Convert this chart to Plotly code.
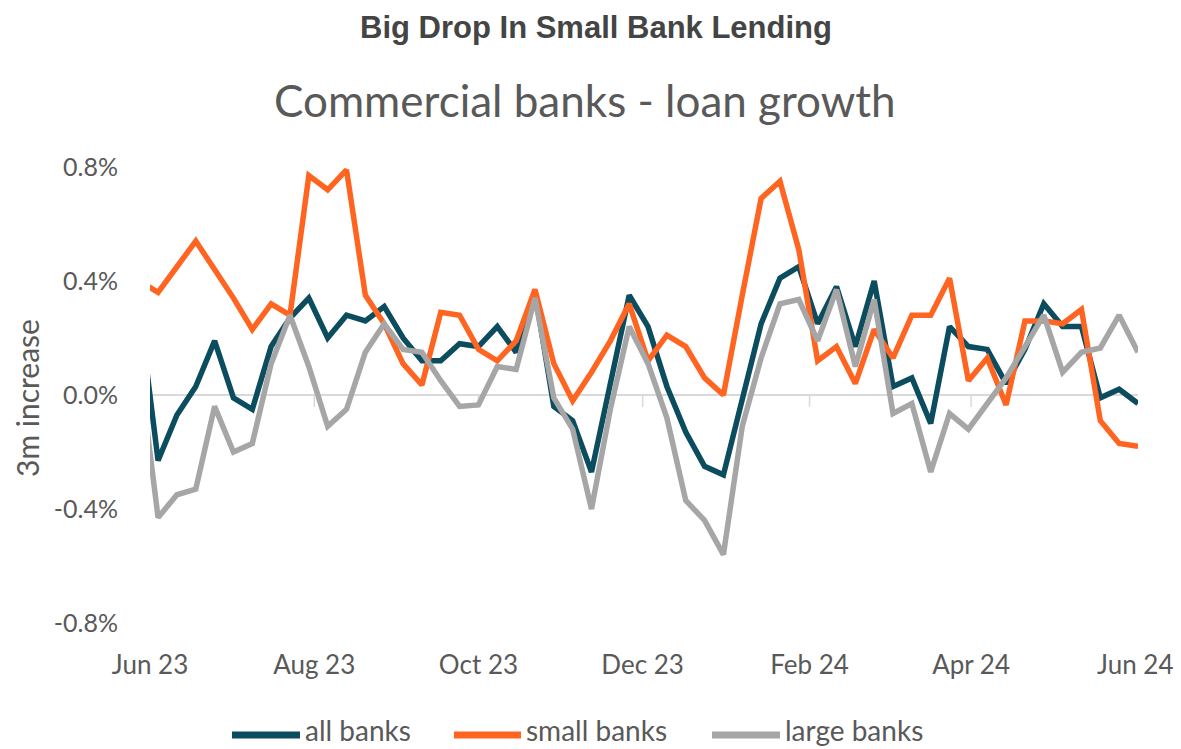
import pandas as pd
import plotly.graph_objects as go

# weekly observations (first one sits just before the axis start and is clipped)
dates = pd.date_range("2023-05-28", periods=54, freq="7D")

all_banks = [0.30, -0.23, -0.07, 0.03, 0.19, -0.01, -0.05, 0.17, 0.27, 0.34,
             0.20, 0.28, 0.26, 0.31, 0.20, 0.12, 0.12, 0.18, 0.17, 0.24,
             0.15, 0.36, -0.04, -0.09, -0.27, 0.04, 0.35, 0.24, 0.03, -0.13,
             -0.25, -0.28, -0.02, 0.25, 0.41, 0.45, 0.25, 0.38, 0.17, 0.40,
             0.03, 0.06, -0.10, 0.24, 0.17, 0.16, 0.04, 0.16, 0.32, 0.24,
             0.24, -0.01, 0.02, -0.03]
small_banks = [0.40, 0.36, 0.45, 0.54, 0.44, 0.34, 0.23, 0.32, 0.28, 0.77,
               0.72, 0.79, 0.35, 0.25, 0.11, 0.035, 0.29, 0.28, 0.16, 0.12,
               0.19, 0.37, 0.11, -0.02, 0.08, 0.19, 0.32, 0.12, 0.21, 0.17,
               0.06, 0.00, 0.35, 0.69, 0.75, 0.51, 0.12, 0.17, 0.04, 0.23,
               0.13, 0.28, 0.28, 0.41, 0.05, 0.13, -0.035, 0.26, 0.26, 0.25,
               0.30, -0.09, -0.17, -0.18]
large_banks = [0.10, -0.43, -0.35, -0.33, -0.04, -0.20, -0.17, 0.11, 0.28, 0.10,
               -0.11, -0.05, 0.15, 0.25, 0.16, 0.15, 0.05, -0.04, -0.035, 0.10,
               0.09, 0.34, -0.01, -0.12, -0.40, -0.05, 0.24, 0.11, -0.08, -0.37,
               -0.44, -0.56, -0.11, 0.13, 0.32, 0.335, 0.19, 0.37, 0.10, 0.335,
               -0.065, -0.03, -0.27, -0.065, -0.12, -0.03, 0.06, 0.17, 0.28, 0.08,
               0.15, 0.165, 0.28, 0.15]

tick_dates = ["2023-06-01", "2023-08-01", "2023-10-01", "2023-12-01",
              "2024-02-01", "2024-04-01", "2024-06-01"]
tick_labels = ["Jun 23", "Aug 23", "Oct 23", "Dec 23", "Feb 24", "Apr 24", "Jun 24"]
y_ticks = [-0.8, -0.4, 0.0, 0.4, 0.8]
y_tick_labels = ["-0.8%", "-0.4%", "0.0%", "0.4%", "0.8%"]

series_names = ["all banks", "small banks", "large banks"]
series_values = [all_banks, small_banks, large_banks]
series_colors = ["#0c4c5f", "#ff6420", "#a6a6a6"]

TXT = "#595959"
FONT = "Lato, 'Open Sans', sans-serif"

# page geometry
W, H = 1181, 749
L, R, T, B = 150, 43, 167, 126
PW, PH = W - L - R, H - T - B


def px_x(p):
    return (p - L) / PW


def px_y(p):
    return 1 - (p - T) / PH


fig = go.Figure()
for name, vals, col in zip(series_names, series_values, series_colors):
    fig.add_trace(go.Scatter(x=dates, y=[v / 100 for v in vals], name=name,
                             mode="lines", line=dict(color=col, width=5.5),
                             showlegend=False))

# small tick marks on the zero line
for d in tick_dates[1:-1]:
    fig.add_shape(type="line", xref="x", yref="y", x0=d, x1=d,
                  y0=0, y1=-0.00042, line=dict(color="#d9d9d9", width=1.5),
                  layer="below")

# legend drawn below the plot (long line samples, as in the source)
legend_line_px = [(232, 300), (454, 521), (712, 780)]
for name, col, (a, b) in zip(series_names, series_colors, legend_line_px):
    fig.add_shape(type="line", xref="paper", yref="paper",
                  x0=px_x(a), x1=px_x(b), y0=px_y(735), y1=px_y(735),
                  line=dict(color=col, width=7))
    fig.add_annotation(text=name, xref="paper", yref="paper",
                       x=px_x(b + 3), y=px_y(730), xanchor="left", yanchor="middle",
                       showarrow=False, font=dict(family=FONT, size=28, color=TXT))

fig.update_layout(
    width=W, height=H,
    margin=dict(l=L, r=R, t=T, b=B, autoexpand=False),
    paper_bgcolor="white", plot_bgcolor="white",
    font=dict(family=FONT, color=TXT, size=20),
    title=dict(text="<b>Big Drop In Small Bank Lending</b>",
               font=dict(family="'Liberation Sans', Arial, sans-serif", size=31, color="#444444"),
               x=596 / W, xanchor="center", y=1 - 27 / H, yanchor="middle"),
    showlegend=False,
    xaxis=dict(type="date", range=["2023-06-01", "2024-06-02"],
               tickmode="array", tickvals=tick_dates, ticktext=tick_labels,
               showgrid=False, zeroline=False, showline=False,
               ticks="outside", ticklen=19, tickcolor="rgba(0,0,0,0)",
               tickfont=dict(family=FONT, size=26, color=TXT)),
    yaxis=dict(range=[-0.008, 0.008], tickmode="array",
               tickvals=[v / 100 for v in y_ticks], ticktext=y_tick_labels,
               showgrid=False, zeroline=True, zerolinecolor="#d9d9d9", zerolinewidth=1.5,
               showline=False, ticks="outside", ticklen=26, tickcolor="rgba(0,0,0,0)",
               tickfont=dict(family=FONT, size=25, color=TXT)),
)

fig.add_annotation(text="Commercial banks - loan growth", xref="paper", yref="paper",
                   x=px_x(585), y=px_y(100), xanchor="center", yanchor="middle",
                   showarrow=False, font=dict(family=FONT, size=44, color=TXT))
fig.add_annotation(text="3m increase", xref="paper", yref="paper",
                   x=px_x(27), y=px_y(398), xanchor="center", yanchor="middle",
                   textangle=-90, showarrow=False, font=dict(family=FONT, size=30, color=TXT))

fig.write_html("out.html")
